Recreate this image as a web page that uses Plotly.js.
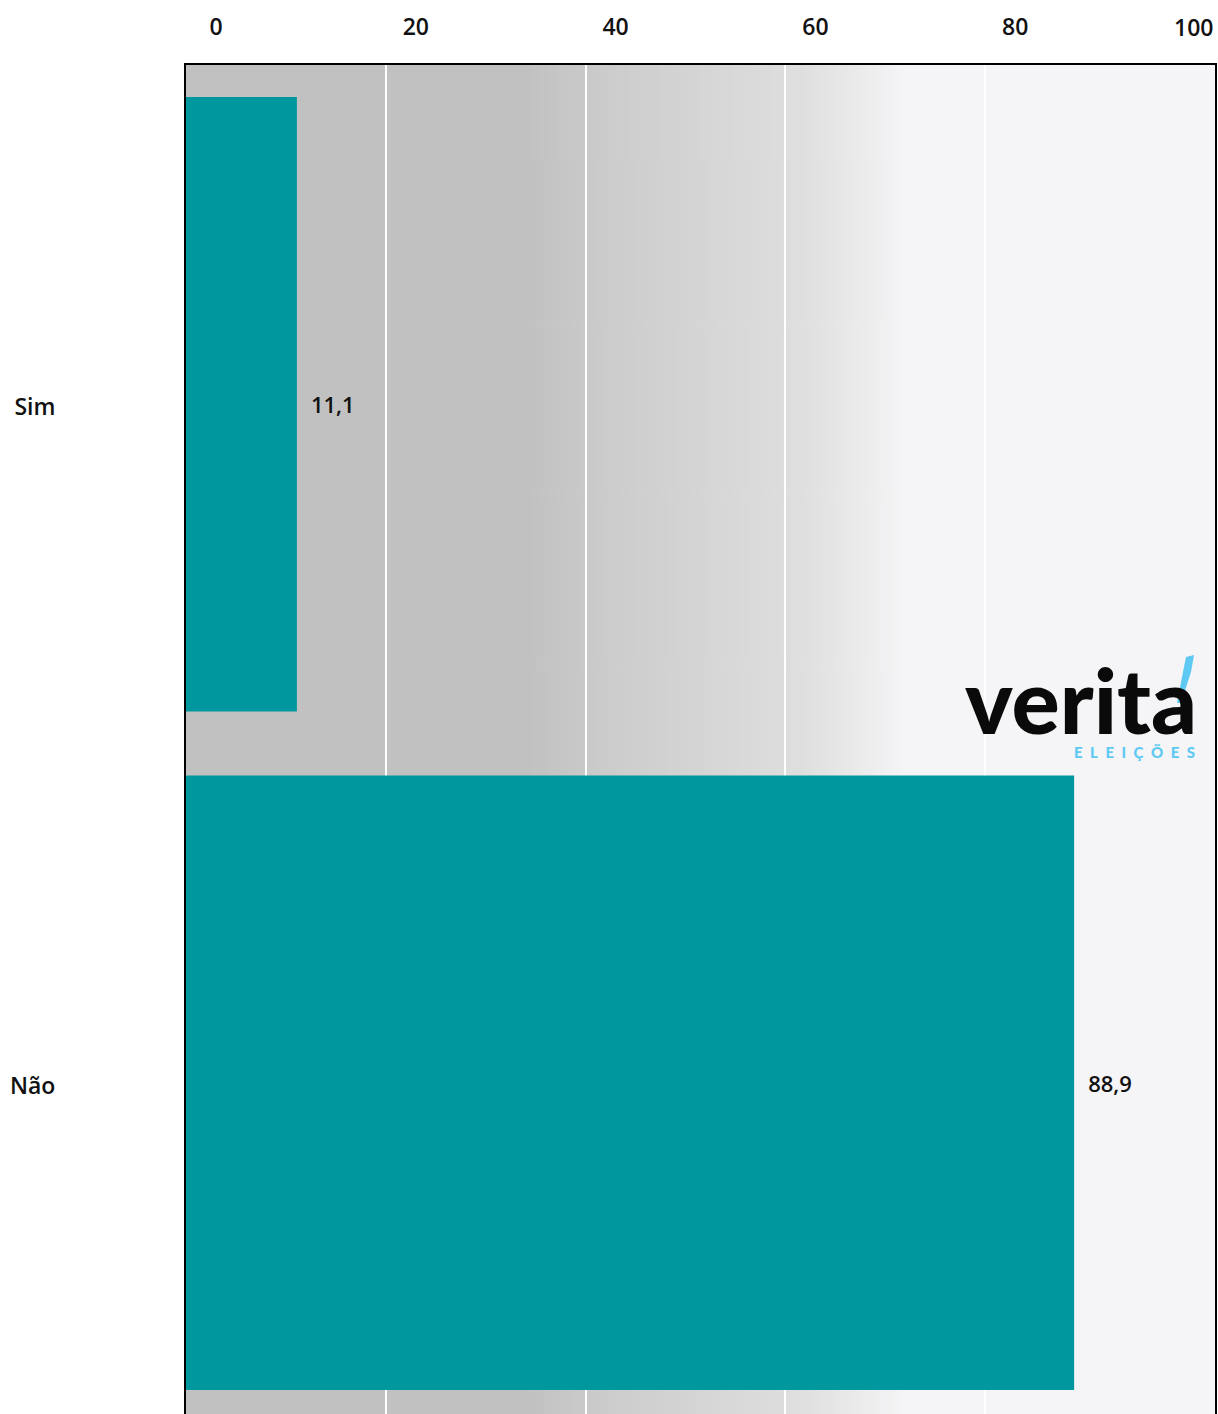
<!DOCTYPE html>
<html>
<head>
<meta charset="utf-8">
<script src="https://cdn.plot.ly/plotly-3.0.1.min.js"></script>
<style>
html,body{margin:0;padding:0;overflow:hidden;background:#fff;}
#chart{width:1218px;height:1422px;}
</style>
</head>
<body>
<div id="chart"></div>
<script>
// Data
const categories = ['Sim', 'Não'];
const values = [11.1, 88.9];
const tickValues = [0, 20, 40, 60, 80];
const tickLabels = ['0', '20', '40', '60', '80'];
const lastTickLabel = '100';

// Background gradient image (plot area)
const cv = document.createElement('canvas');
cv.width = 1029; cv.height = 8;
const ctx = cv.getContext('2d');
const g = ctx.createLinearGradient(0, 0, 1029, 0);
g.addColorStop(0, '#c1c1c1');
g.addColorStop(0.33, '#c1c1c1');
g.addColorStop(0.40, '#cbcbcb');
g.addColorStop(0.60, '#dfdfdf');
g.addColorStop(0.70, '#f5f5f7');
g.addColorStop(1, '#f5f5f7');
ctx.fillStyle = g;
ctx.fillRect(0, 0, 1029, 8);
const bgURL = cv.toDataURL('image/png');

const FONT = '"Open Sans", "Noto Sans", sans-serif';

// plot-area pixel -> paper helpers (plot area: x 186..1215, y 65..1422)
const PX0 = 186, PW = 1029, PY0 = 65, PH = 1357;
const toX = px => (px - PX0) / PW;
const toY = py => 1 - (py - PY0) / PH;

const trace = {
  type: 'bar',
  orientation: 'h',
  y: categories,
  x: values,
  width: 0.906,
  marker: {color: '#00989e', line: {width: 0}},
  texttemplate: '\u2002%{x:.1f}',
  textposition: 'outside',
  textfont: {family: FONT, size: 22, color: '#111', weight: 600},
  cliponaxis: false,
  hoverinfo: 'skip'
};

const accentPts = [[1186, 657], [1194, 655], [1191, 672], [1181, 703], [1177, 703], [1183, 672]];
const accentPath = 'M ' + accentPts.map(p => toX(p[0]).toFixed(5) + ',' + toY(p[1]).toFixed(5)).join(' L ') + ' Z';

const layout = {
  width: 1218,
  height: 1422,
  margin: {l: 186, r: 3, t: 65, b: 0, pad: 0},
  paper_bgcolor: '#ffffff',
  plot_bgcolor: 'rgba(0,0,0,0)',
  separators: ',.',
  showlegend: false,
  bargap: 0.1,
  xaxis: {
    side: 'top',
    range: [0, 103],
    tickvals: tickValues,
    ticktext: tickLabels,
    ticks: '',
    ticklabelshift: 30,
    ticklabelstandoff: 19,
    tickfont: {family: FONT, size: 23, color: '#111', weight: 600},
    showgrid: true,
    gridcolor: '#ffffff',
    gridwidth: 2,
    zeroline: false,
    showline: true,
    linecolor: '#000000',
    linewidth: 2,
    mirror: true,
    fixedrange: true
  },
  yaxis: {
    type: 'category',
    categoryorder: 'array',
    categoryarray: categories,
    range: [1.5, -0.5],
    ticks: '',
    ticklabelstandoff: 124,
    ticklabelshift: -3,
    tickfont: {family: FONT, size: 23, color: '#111', weight: 600},
    showgrid: false,
    zeroline: false,
    showline: true,
    linecolor: '#000000',
    linewidth: 2,
    mirror: true,
    fixedrange: true
  },
  images: [{
    source: bgURL,
    xref: 'paper', yref: 'paper',
    x: 0, y: 1, sizex: 1, sizey: 1,
    xanchor: 'left', yanchor: 'top',
    sizing: 'stretch',
    layer: 'below'
  }],
  shapes: [{
    type: 'path',
    xref: 'paper', yref: 'paper',
    path: accentPath,
    fillcolor: '#5ec9f3',
    line: {width: 0},
    layer: 'above'
  }],
  annotations: [
    {
      text: lastTickLabel,
      xref: 'paper', yref: 'paper',
      x: 1, y: 1, xanchor: 'right', yanchor: 'bottom',
      yshift: 20,
      showarrow: false,
      font: {family: FONT, size: 23, color: '#111', weight: 600}
    },
    {
      text: 'verita',
      xref: 'paper', yref: 'paper',
      x: toX(1199), y: toY(699), xanchor: 'right', yanchor: 'middle',
      height: 74, valign: 'middle',
      showarrow: false,
      font: {family: 'Lato, "Open Sans", sans-serif', size: 90, color: '#0a0a0a', weight: 900}
    },
    {
      text: 'E\u2002L\u2002E\u2002I\u2002Ç\u2002Õ\u2002E\u2002S',
      xref: 'paper', yref: 'paper',
      x: toX(1197), y: toY(752), xanchor: 'right', yanchor: 'middle',
      showarrow: false,
      font: {family: 'Lato, "Open Sans", sans-serif', size: 15, color: '#5ec9f3', weight: 900}
    }
  ]
};

Plotly.newPlot('chart', [trace], layout, {staticPlot: true, displayModeBar: false});
</script>
</body>
</html>
